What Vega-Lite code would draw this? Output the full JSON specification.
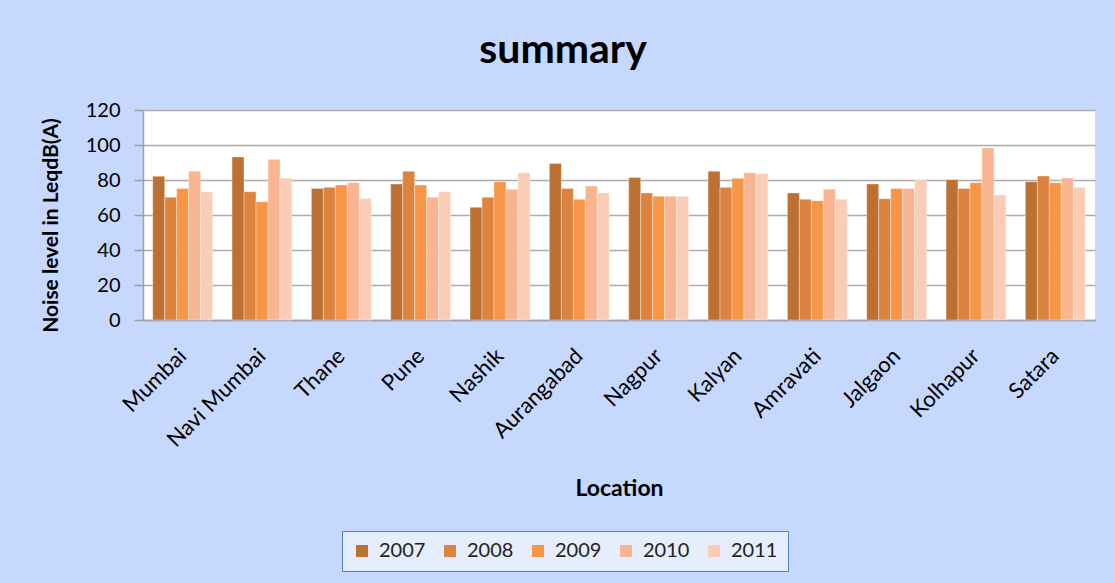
{
  "$schema": "https://vega.github.io/schema/vega-lite/v6.json",
  "width": 952,
  "height": 210,
  "autosize": {"type": "none"},
  "padding": {"left": 143, "top": 110, "right": 20, "bottom": 263},
  "background": "#C6D8FE",
  "config": {
    "font": "Lato",
    "view": {"fill": "#FFFFFF", "stroke": null},
    "axis": {"labelFont": "Lato", "titleFont": "Lato", "labelColor": "#000000", "titleColor": "#000000"}
  },
  "title": {
    "text": "summary",
    "fontSize": 41,
    "fontWeight": "bold",
    "font": "Lato",
    "color": "#000000",
    "anchor": "middle",
    "dx": -56,
    "dy": 36,
    "baseline": "alphabetic",
    "offset": 32
  },
  "data": {
    "values": [
      {"loc": "Mumbai", "year": "2007", "value": 82.1},
      {"loc": "Mumbai", "year": "2008", "value": 70.1},
      {"loc": "Mumbai", "year": "2009", "value": 75.2},
      {"loc": "Mumbai", "year": "2010", "value": 85.0},
      {"loc": "Mumbai", "year": "2011", "value": 73.3},
      {"loc": "Navi Mumbai", "year": "2007", "value": 93.1},
      {"loc": "Navi Mumbai", "year": "2008", "value": 73.3},
      {"loc": "Navi Mumbai", "year": "2009", "value": 67.6},
      {"loc": "Navi Mumbai", "year": "2010", "value": 91.8},
      {"loc": "Navi Mumbai", "year": "2011", "value": 81.1},
      {"loc": "Thane", "year": "2007", "value": 75.2},
      {"loc": "Thane", "year": "2008", "value": 75.8},
      {"loc": "Thane", "year": "2009", "value": 77.1},
      {"loc": "Thane", "year": "2010", "value": 78.5},
      {"loc": "Thane", "year": "2011", "value": 69.5},
      {"loc": "Pune", "year": "2007", "value": 77.7},
      {"loc": "Pune", "year": "2008", "value": 85.0},
      {"loc": "Pune", "year": "2009", "value": 77.1},
      {"loc": "Pune", "year": "2010", "value": 70.1},
      {"loc": "Pune", "year": "2011", "value": 73.3},
      {"loc": "Nashik", "year": "2007", "value": 64.4},
      {"loc": "Nashik", "year": "2008", "value": 70.1},
      {"loc": "Nashik", "year": "2009", "value": 79.0},
      {"loc": "Nashik", "year": "2010", "value": 74.7},
      {"loc": "Nashik", "year": "2011", "value": 84.2},
      {"loc": "Aurangabad", "year": "2007", "value": 89.5},
      {"loc": "Aurangabad", "year": "2008", "value": 75.2},
      {"loc": "Aurangabad", "year": "2009", "value": 69.0},
      {"loc": "Aurangabad", "year": "2010", "value": 76.6},
      {"loc": "Aurangabad", "year": "2011", "value": 72.6},
      {"loc": "Nagpur", "year": "2007", "value": 81.5},
      {"loc": "Nagpur", "year": "2008", "value": 72.6},
      {"loc": "Nagpur", "year": "2009", "value": 70.7},
      {"loc": "Nagpur", "year": "2010", "value": 70.7},
      {"loc": "Nagpur", "year": "2011", "value": 70.7},
      {"loc": "Kalyan", "year": "2007", "value": 85.0},
      {"loc": "Kalyan", "year": "2008", "value": 75.8},
      {"loc": "Kalyan", "year": "2009", "value": 81.0},
      {"loc": "Kalyan", "year": "2010", "value": 84.2},
      {"loc": "Kalyan", "year": "2011", "value": 83.6},
      {"loc": "Amravati", "year": "2007", "value": 72.6},
      {"loc": "Amravati", "year": "2008", "value": 69.0},
      {"loc": "Amravati", "year": "2009", "value": 68.2},
      {"loc": "Amravati", "year": "2010", "value": 74.7},
      {"loc": "Amravati", "year": "2011", "value": 69.0},
      {"loc": "Jalgaon", "year": "2007", "value": 77.7},
      {"loc": "Jalgaon", "year": "2008", "value": 69.3},
      {"loc": "Jalgaon", "year": "2009", "value": 75.2},
      {"loc": "Jalgaon", "year": "2010", "value": 75.2},
      {"loc": "Jalgaon", "year": "2011", "value": 79.8},
      {"loc": "Kolhapur", "year": "2007", "value": 80.2},
      {"loc": "Kolhapur", "year": "2008", "value": 75.2},
      {"loc": "Kolhapur", "year": "2009", "value": 78.5},
      {"loc": "Kolhapur", "year": "2010", "value": 98.3},
      {"loc": "Kolhapur", "year": "2011", "value": 71.4},
      {"loc": "Satara", "year": "2007", "value": 79.0},
      {"loc": "Satara", "year": "2008", "value": 82.3},
      {"loc": "Satara", "year": "2009", "value": 78.5},
      {"loc": "Satara", "year": "2010", "value": 81.1},
      {"loc": "Satara", "year": "2011", "value": 75.8}
    ]
  },
  "mark": {"type": "bar", "stroke": "#FFFFFF", "strokeOpacity": 0.35, "strokeWidth": 1},
  "encoding": {
    "x": {
      "field": "loc",
      "type": "nominal",
      "sort": null,
      "scale": {"paddingInner": 0.245, "paddingOuter": 0.1225},
      "axis": {
        "title": "Location",
        "titleFontSize": 23,
        "titleFontWeight": "bold",
        "titleY": 175,
        "titleBaseline": "alphabetic",
        "labelAngle": -45,
        "labelAlign": "right",
        "labelBaseline": "middle",
        "labelFontSize": 22,
        "labelPadding": 32,
        "labelOffset": 0,
        "ticks": false,
        "domainColor": "#A0A0A0",
        "domainWidth": 1.5,
        "grid": false
      }
    },
    "xOffset": {"field": "year", "type": "nominal", "sort": null, "scale": {"paddingInner": 0, "paddingOuter": 0}},
    "y": {
      "field": "value",
      "type": "quantitative",
      "scale": {"domain": [0, 120], "nice": false},
      "axis": {
        "title": "Noise level in LeqdB(A)",
        "titleFontSize": 21,
        "titleFontWeight": "bold",
        "titleBaseline": "middle",
        "titleX": -92,
        "titleY": 115,
        "values": [0, 20, 40, 60, 80, 100, 120],
        "labelFontSize": 20,
        "labelPadding": 14,
        "tickSize": 9,
        "tickColor": "#A0A0A0",
        "tickWidth": 1.5,
        "domainColor": "#A0A0A0",
        "domainWidth": 1.5,
        "gridColor": "#ABABAB",
        "gridWidth": 1.5
      }
    },
    "color": {
      "field": "year",
      "type": "nominal",
      "scale": {
        "domain": ["2007", "2008", "2009", "2010", "2011"],
        "range": ["#BC7132", "#DC8340", "#F69646", "#F9B591", "#FBCDB7"]
      },
      "legend": {
        "title": null,
        "orient": "none",
        "direction": "horizontal",
        "legendX": 199,
        "legendY": 421,
        "symbolType": "square",
        "symbolSize": 144,
        "symbolStrokeWidth": 0,
        "labelFontSize": 20,
        "labelFont": "Lato",
        "labelColor": "#222222",
        "labelOffset": 7,
        "columnPadding": 14,
        "padding": 10,
        "fillColor": "#E6EDFD",
        "strokeColor": "#4F81BD"
      }
    }
  }
}
